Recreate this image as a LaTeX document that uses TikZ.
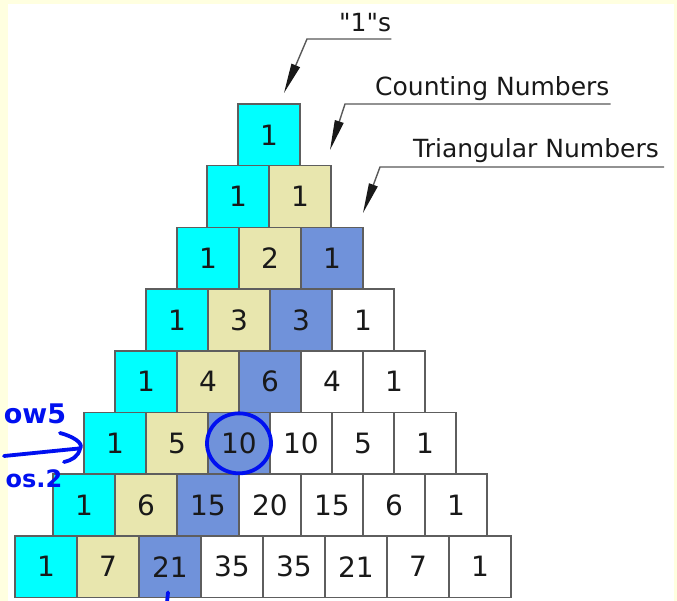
\documentclass[tikz,border=0pt]{standalone}
\usepackage{fontspec}
\setmainfont{DejaVu Sans}
\usepackage{xcolor}
\usepackage{tikz}
\usetikzlibrary{arrows.meta,calc}
\definecolor{OnesCyan}{HTML}{00FFFF}
\definecolor{CountKhaki}{HTML}{E8E6AE}
\definecolor{TriBlue}{HTML}{7092DA}
\definecolor{CellEdge}{HTML}{5E5E5E}
\definecolor{PageCream}{HTML}{FFFFE0}
\definecolor{InkBlue}{HTML}{0010F0}
\colorlet{tone0}{OnesCyan}
\colorlet{tone1}{CountKhaki}
\colorlet{tone2}{TriBlue}
\colorlet{tone3}{white}
\newcommand\plainquote{\XeTeXglyph\XeTeXcharglyph"22\relax}
\tikzset{
  cell/.style={draw=CellEdge, line width=1.6pt, minimum width=62pt,
               minimum height=61.7pt, inner sep=0pt, text=black!90,
               font=\fontsize{28}{28}\selectfont},
  tag/.style={anchor=base west, inner sep=0pt, text=black!90,
              font=\fontsize{25}{25}\selectfont},
  leader/.style={draw=black!65, line width=1.4pt,
                 -{Triangle[length=30pt,width=9pt,color=black!90]}},
  ink/.style={draw=InkBlue, line width=3.8pt, line cap=round, line join=round},
  scrawl/.style={text=InkBlue, inner sep=0pt,
                 font=\fontsize{27}{27}\bfseries\selectfont}
}

\begin{document}
\begin{tikzpicture}[x=1pt, y=-1pt]
  \useasboundingbox (0,0) rectangle (677,601);
  \fill[PageCream] (0,0) rectangle (677,601);
  \fill[white] (8,4) rectangle (674,601);

  % the triangle, one row at a time
  \foreach \row/\xl/\vals in {0/238/{1}, 1/207/{1,1}, 2/177/{1,2,1},
      3/146/{1,3,3,1}, 4/115/{1,4,6,4,1}, 5/84/{1,5,10,10,5,1},
      6/53/{1,6,15,20,15,6,1}, 7/15/{1,7,21,35,35,21,7,1}}
    \foreach \val [count=\col from 0] in \vals {
      \pgfmathtruncatemacro\tone{min(\col,3)}
      \node[cell, fill=tone\tone] (c-\row-\col)
        at (\xl+62*\col+31, 104+61.7*\row+30.85) {\val};
    }

  % labels and their leaders
  \node[tag] (ones) at (339,32) {\plainquote1\plainquote s};
  \node[tag] (counting) at (375,96) {Counting Numbers};
  \node[tag] (triangular) at (413,158) {Triangular Numbers};
  \coordinate (ones-bend) at (307,39);
  \coordinate (ones-tip) at (284,93);
  \coordinate (counting-bend) at (345,104);
  \coordinate (counting-tip) at (330,150);
  \coordinate (triangular-bend) at (380,167);
  \coordinate (triangular-tip) at (363,213);
  \draw[leader] ($(ones.base east)+(0,7)$) -- (ones-bend) -- (ones-tip);
  \draw[leader] ($(counting.base east)+(1,8)$) -- (counting-bend) -- (counting-tip);
  \draw[leader] ($(triangular.base east)+(5,9)$) -- (triangular-bend) -- (triangular-tip);

  % pen marks
  \draw[ink] (c-5-2.center) ellipse [x radius=32pt, y radius=30pt];
  \draw[ink] ($(c-7-2.south)+(-2,-6)$) -- ++(-1,10);
  \node[scrawl] (row-note) at (35,414) {ow5};
  \node[scrawl, font=\fontsize{24}{24}\bfseries\selectfont] (pos-note) at (34,479) {os.2};
  \coordinate (ink-start) at (4,456);
  \coordinate (ink-end) at ($(c-5-0.west)+(-3,5)$);
  \draw[ink] (ink-start) -- (ink-end);
  \draw[ink] (60,433) .. controls (72,436) and (84,443) .. (ink-end)
    .. controls (78,457) and (72,460) .. (64,462);
\end{tikzpicture}
\end{document}
